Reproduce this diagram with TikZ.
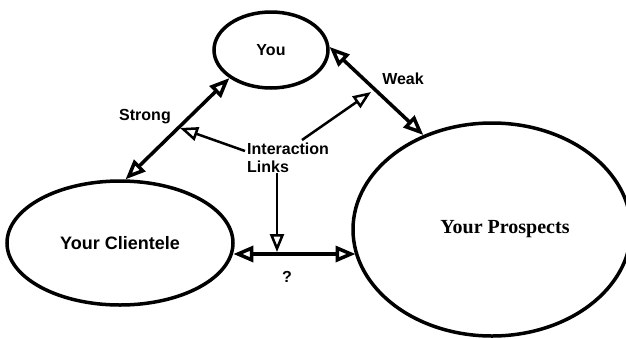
\documentclass[tikz,border=0pt]{standalone}
\usepackage{fontspec}
\setmainfont{Liberation Sans}
\newfontfamily\prosfont{Liberation Serif}
\usetikzlibrary{arrows.meta,shapes.geometric,positioning,calc}

\begin{document}
\begin{tikzpicture}[x=1pt,y=-1pt,font=\fontsize{16}{18}\selectfont\bfseries,
  party/.style={ellipse,draw,line width=3.5pt,inner sep=0pt},
  link/.style={line width=3.5pt,
    {Triangle[open,length=20pt,width=16pt]}-{Triangle[open,length=20pt,width=16pt]}},
  hint/.style={line width=2.5pt,-{Triangle[open,length=18pt,width=14pt]}}]
  \useasboundingbox (0,0) rectangle (626,338);
  \node[party,minimum width=114pt,minimum height=76pt] (you) at (271,50) {You};
  \node[party,minimum width=226pt,minimum height=124pt,font=\fontsize{18}{18}\selectfont\bfseries]
    (cli) at (120,243) {Your Clientele};
  \node[party,minimum width=278pt,minimum height=213pt,font=\fontsize{20}{20}\selectfont\prosfont\bfseries]
    (pro) at (492,229.5) {\hspace*{26pt}Your Prospects};
  \node (strong) at (145,117) {Strong};
  \node (weak) at (403,79) {Weak};
  \node (qm) at (287,277) {?};
  \node[align=left,anchor=north west,inner sep=0pt,font=\fontsize{16}{18}\selectfont\bfseries]
    (lnk) at (247,143) {\bfseries Interaction\\\bfseries Links};
  % the three ties
  \coordinate (qy) at (0,254);
  \draw[link] (cli.85) -- (you.214);
  \draw[link] (you.3) -- (pro.126.7);
  \draw[link] (cli.-5.7 |- qy) -- (pro.-169.7 |- qy);
  % pointers from the label
  \coordinate (sTip) at (180,128);
  \coordinate (wTip) at (371,92);
  \coordinate (qTip) at (277,252);
  \draw[hint] ($(lnk.north west)+(-2,8)$) -- (sTip);
  \draw[hint] ($(lnk.north west)+(55,-3)$) -- (wTip);
  \draw[hint] (lnk.south -| qTip) -- (qTip);
\end{tikzpicture}
\end{document}
